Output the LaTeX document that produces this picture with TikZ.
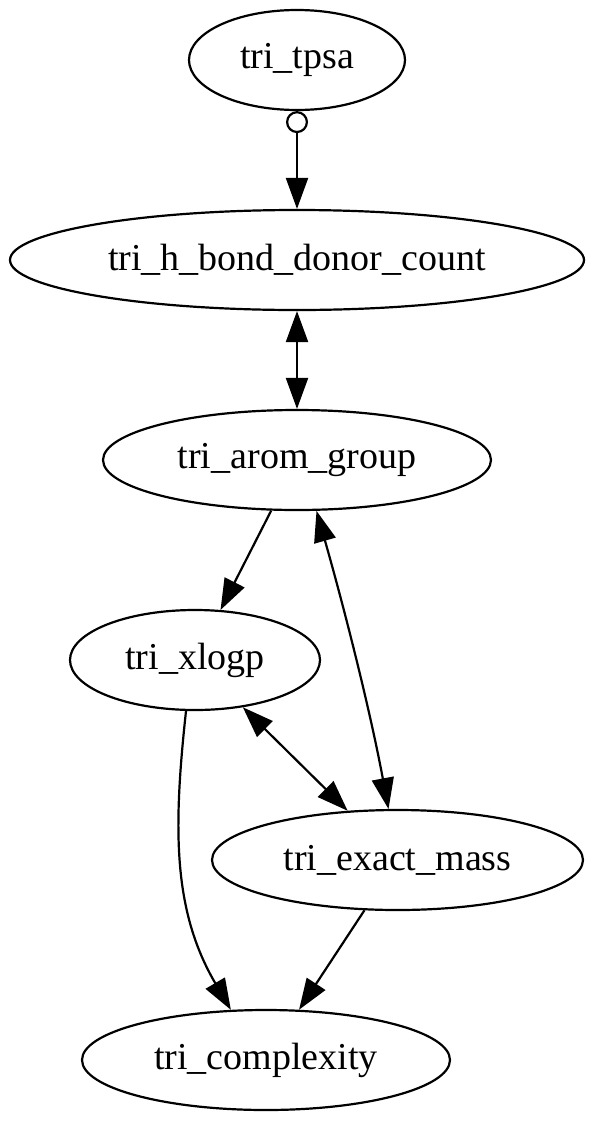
\documentclass[tikz,border=0pt]{standalone}
\usepackage{fontspec}
\setmainfont{Liberation Serif}
\usetikzlibrary{shapes.geometric,arrows.meta}
\begin{document}
\begin{tikzpicture}[x=1pt, y=-1pt,
    var/.style={draw, ellipse, line width=2.2pt, inner sep=0pt, minimum height=100pt,
                font=\fontsize{38}{44}\selectfont},
    arr/.style={line width=2.2pt, -{Triangle[length=31pt,width=22pt]}},
    dbl/.style={line width=2.2pt, {Triangle[length=31pt,width=22pt]}-{Triangle[length=31pt,width=22pt]}},
    odotarr/.style={line width=2.2pt, {Circle[open,length=22pt,width=22pt]}-{Triangle[length=31pt,width=22pt]}}]
                \useasboundingbox (0,0) rectangle (595,1122);

                % Draw the variable nodes
                \node[var, minimum width=216pt] (tpsa) at (297,60) {tri\_tpsa};
                \node[var, minimum width=574pt] (hbond) at (297,260) {tri\_h\_bond\_donor\_count};
                \node[var, minimum width=388pt] (arom) at (297,460) {tri\_arom\_group};
                \node[var, minimum width=250pt] (xlogp) at (195,660) {tri\_xlogp};
                \node[var, minimum width=371pt] (exact) at (397.5,860) {tri\_exact\_mass};
                \node[var, minimum width=368pt] (cplx) at (266,1060) {tri\_complexity};

                % Draw straight edges
                \draw[odotarr] (tpsa) -- (hbond);
                \draw[dbl] (hbond) -- (arom);
                \draw[arr] (arom) -- (xlogp);
                \draw[dbl] (xlogp) -- (exact);
                \draw[arr] (exact) -- (cplx);

                % Draw curved edges
                \draw[dbl] (arom.-69) .. controls (345,611) and (370,710) .. (exact.100);
                \draw[arr] (xlogp.-100) .. controls (173,830) and (173,911) .. (cplx.125);
\end{tikzpicture}
\end{document}
